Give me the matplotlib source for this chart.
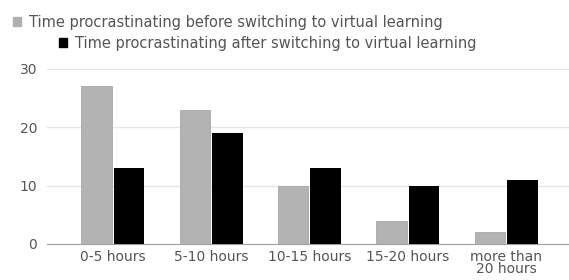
import matplotlib.pyplot as plt
import numpy as np
from matplotlib.patches import Patch

categories = ['0-5 hours', '5-10 hours', '10-15 hours', '15-20 hours', 'more than\n20 hours']
before = [27, 23, 10, 4, 2]
after = [13, 19, 13, 10, 11]
label_before = 'Time procrastinating before switching to virtual learning'
label_after = 'Time procrastinating after switching to virtual learning'

plt.rcParams['font.family'] = 'DejaVu Sans'
text_color = '#555555'

fig = plt.figure(figsize=(5.69, 2.80), dpi=100)
ax = fig.add_axes([0.0826, 0.1286, 0.9174, 0.625])

x = np.arange(len(categories))
w = 0.31
ax.bar(x - w / 2 - 0.01, before, w, color='#b3b3b3', edgecolor='#a8a8a8', linewidth=0.6, zorder=3)
ax.bar(x + w / 2 + 0.01, after, w, color='#000000', zorder=3)

ax.set_ylim(0, 30)
ax.set_yticks([0, 10, 20, 30])
ax.set_xlim(-0.67, 4.64)
ax.set_xticks(x)
ax.set_xticklabels(categories, linespacing=0.9)
ax.grid(axis='y', color='#e6e6e6', linewidth=1, zorder=0)
for s in ['top', 'right', 'left']:
    ax.spines[s].set_visible(False)
ax.spines['bottom'].set_color('#a0a0a0')
ax.tick_params(axis='both', length=0, labelsize=10, colors=text_color)
ax.tick_params(axis='y', pad=7)
ax.tick_params(axis='x', pad=4)

# legend, two centred lines
fig.legend(handles=[Patch(color='#b0b0b0')], labels=[label_before],
           loc='center', bbox_to_anchor=(0.40, 0.921), frameon=False,
           fontsize=10.5, handlelength=0.6, handleheight=0.6, handletextpad=0.5,
           labelcolor=text_color)
fig.legend(handles=[Patch(color='#000000')], labels=[label_after],
           loc='center', bbox_to_anchor=(0.47, 0.846), frameon=False,
           fontsize=10.5, handlelength=0.6, handleheight=0.6, handletextpad=0.5,
           labelcolor=text_color)

fig.savefig('out.png', dpi=100)
